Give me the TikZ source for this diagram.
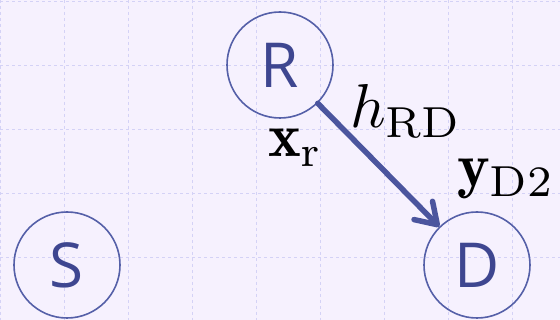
\documentclass[tikz,border=0pt]{standalone}
\usepackage{amsmath}
\usepackage{graphicx}
\usepackage{fontspec}
\setsansfont{Open Sans}
\usetikzlibrary{arrows.meta}
\definecolor{bgcol}{HTML}{F6F1FE}
\definecolor{gridcol}{HTML}{D4D2F6}
\definecolor{nodeline}{HTML}{5560A8}
\definecolor{nodetext}{HTML}{3E4690}
\definecolor{arrowcol}{HTML}{4B559E}
\tikzset{
  terminal/.style={circle, draw=nodeline, line width=1.6pt, minimum size=106pt, inner sep=0pt,
    text=nodetext, font=\sffamily\fontsize{62}{70}\selectfont},
  gridline/.style={gridcol, line width=1pt, dash pattern=on 3pt off 3pt},
  link/.style={arrowcol, line width=5.5pt, line cap=round,
    -{Straight Barb[length=20pt,width=26pt,line cap=round,line join=round]}},
  lbl/.style={inner sep=0pt, anchor=base west}
}
\newcommand{\bigmath}[1]{\scalebox{6.2}{$#1$}}
\begin{document}
\begin{tikzpicture}[x=1pt,y=-1pt]
\fill[bgcol] (0,0) rectangle (560,320);
\useasboundingbox (0,0) rectangle (560,320);
\foreach \gx in {0,64,...,512} \draw[gridline] (\gx,0) -- (\gx,320);
\foreach \gy in {2,66,130,194,258} \draw[gridline] (0,\gy) -- (560,\gy);
\node[terminal] (S) at (67,265) {S};
\node[terminal] (R) at (280,65) {R};
\node[terminal] (D) at (477,265) {D};
\draw[link] (R) -- (D);
\node[lbl] (hRD) at (350,128) {\bigmath{h_{\mathrm{RD}}}};
\node[lbl] (xr) at (268,157) {\bigmath{\mathbf{x}_{\mathrm{r}}}};
\node[lbl] (yD) at (457,187) {\bigmath{\mathbf{y}_{\mathrm{D2}}}};
\end{tikzpicture}
\end{document}
